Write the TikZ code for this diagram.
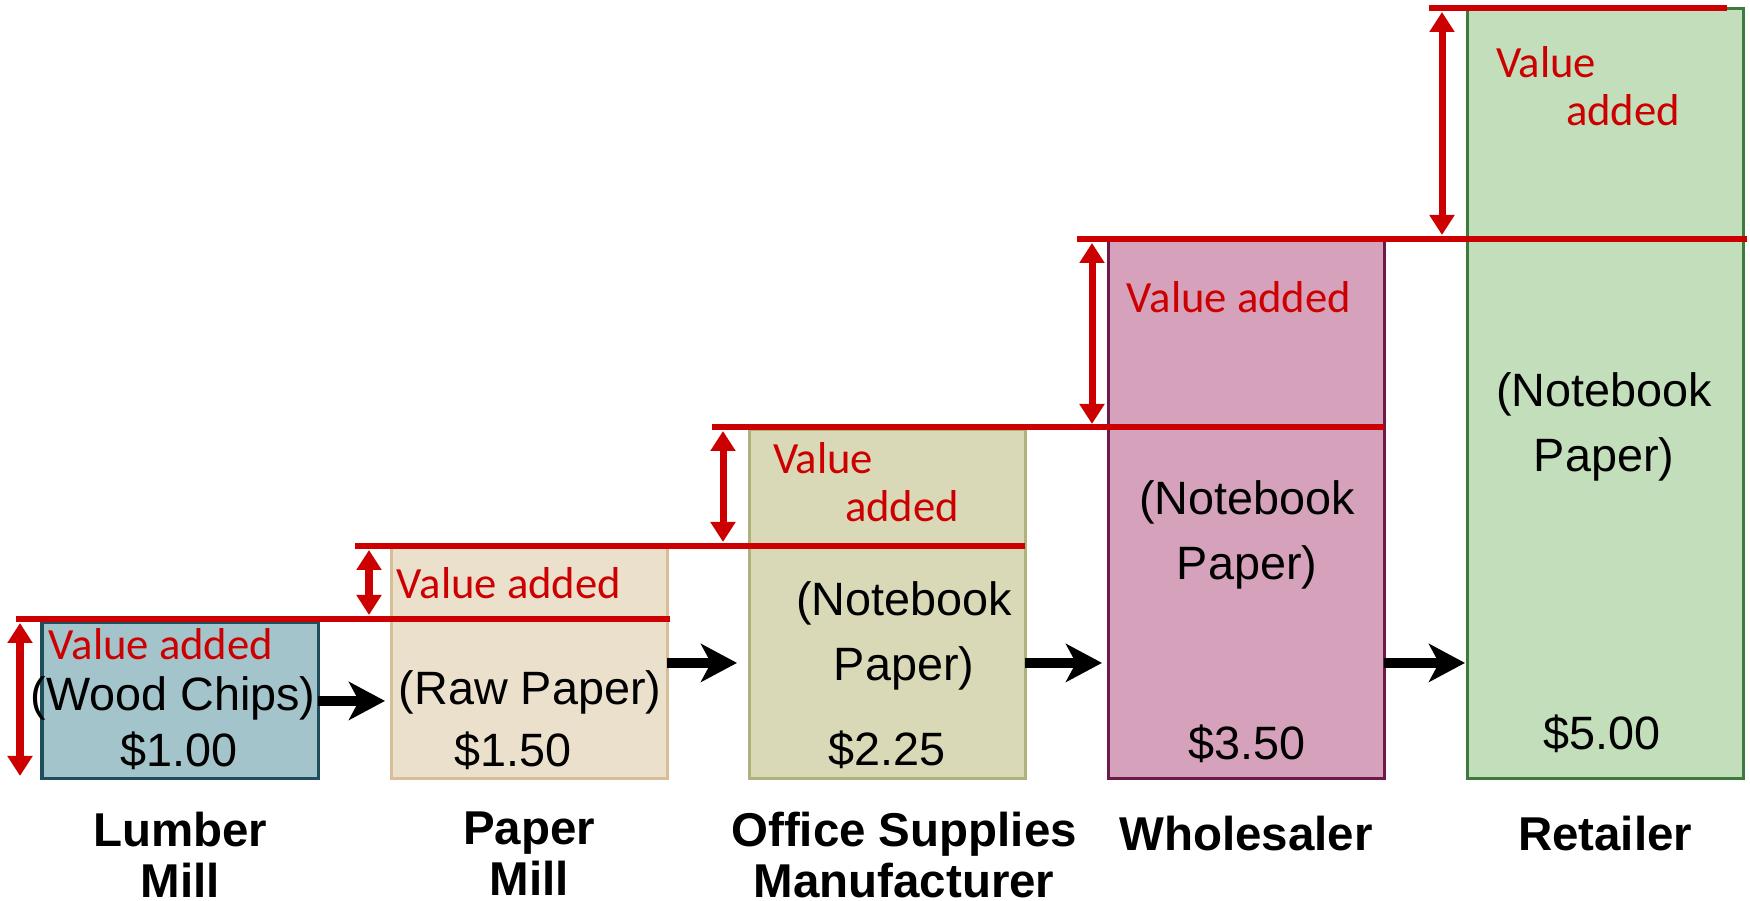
\documentclass[tikz,border=0pt]{standalone}
\usepackage{fontspec}
\setmainfont{Liberation Sans}
\newfontfamily\calibri{Carlito}
\usetikzlibrary{positioning, arrows.meta}

\definecolor{valred}{HTML}{CC0000}
\definecolor{lumberfill}{HTML}{A3C4CB}
\definecolor{lumberline}{HTML}{1E4E5C}
\definecolor{paperfill}{HTML}{EBE0CB}
\definecolor{paperline}{HTML}{D8BE98}
\definecolor{officefill}{HTML}{D9D9B8}
\definecolor{officeline}{HTML}{B0B27B}
\definecolor{wholefill}{HTML}{D5A1BB}
\definecolor{wholeline}{HTML}{6E1A48}
\definecolor{retailfill}{HTML}{C3DEBA}
\definecolor{retailline}{HTML}{3E7A3E}

\begin{document}
\begin{tikzpicture}[x=0.01cm, y=-0.01cm,
    every node/.style={inner sep=0pt, outer sep=0pt},
    firm/.style={draw, line width=0.03cm, minimum width=2.76cm, anchor=south west},
    valline/.style={valred, line width=0.067cm},
    valarrow/.style={valred, line width=0.07cm, {Triangle[length=0.2cm, width=0.24cm]}-{Triangle[length=0.2cm, width=0.24cm]}},
    flow/.style={line width=0.1cm, -{Stealth[length=0.36cm, width=0.38cm, inset=0.1cm]}},
    goods/.style={font=\fontsize{13.3}{18.5}\selectfont, align=center},
    added/.style={text=valred, font=\calibri\fontsize{12.7}{13.7}\selectfont, align=left},
    stage/.style={font=\fontsize{13.5}{14.5}\selectfont\bfseries, align=center}]
    \useasboundingbox (0,0) rectangle (1750,901);

    % the five firms
    \node[firm, fill=lumberfill, draw=lumberline, minimum height=1.56cm] (A) at (42,779) {};
    \node[firm, fill=paperfill, draw=paperline, minimum height=2.32cm] (B) at (391,779) {};
    \node[firm, fill=officefill, draw=officeline, minimum height=3.49cm] (C) at (749,779) {};
    \node[firm, fill=wholefill, draw=wholeline, minimum height=5.39cm] (D) at (1108,779) {};
    \node[firm, fill=retailfill, draw=retailline, minimum height=7.70cm] (E) at (1467,779) {};

    % value levels
    \draw[valline] (16,619) -- (670,619);
    \draw[valline] (355,546) -- (1025,546);
    \draw[valline] (712,427) -- (1384,427);
    \draw[valline] (1077,239) -- (1747,239);
    \draw[valline] (1429,8) -- (1727,8);

    \draw[valarrow] (20,623) -- (20,776);
    \draw[valarrow] (369,550) -- (369,615);
    \draw[valarrow] (723,431) -- (723,542);
    \draw[valarrow] (1092,243) -- (1092,424);
    \draw[valarrow] (1442,12) -- (1442,235);

    % texts in the boxes
    \node[added, anchor=base] (va1) at (161,660) {Value added};
    \node[goods, anchor=base] (wc) at (173,711) {(Wood Chips)};
    \node[goods, anchor=base] (pA) at (179,767) {\$1.00};

    \node[added, anchor=base] (va2) at (509,599) {Value added};
    \node[goods, anchor=base] (rp) at (530,705) {(Raw Paper)};
    \node[goods, anchor=base] (pB) at (513,767) {\$1.50};

    \node[added, anchor=west] (va3) at (773,482) {Value\\\hspace*{0.72cm}added};
    \node[goods] (nbC) at (904,636) {(Notebook\\Paper)};
    \node[goods, anchor=base] (pC) at (887,766) {\$2.25};

    \node[added, anchor=base] (va4) at (1239,313) {Value added};
    \node[goods] (nbD) at (1247,535) {(Notebook\\Paper)};
    \node[goods, anchor=base] (pD) at (1247,760) {\$3.50};

    \node[added, anchor=west] (va5) at (1496,86) {Value\\\hspace*{0.70cm}added};
    \node[goods] (nbE) at (1604,427) {(Notebook\\Paper)};
    \node[goods, anchor=base] (pE) at (1602,750) {\$5.00};

    % stage names
    \node[stage, below=0.33cm of A] (lA) {Lumber\\Mill};
    \node[stage, below=0.33cm of B] (lB) {Paper\\Mill};
    \node[stage, below=0.33cm of C, xshift=0.17cm] (lC) {Office Supplies\\Manufacturer};
    \node[stage, below=0.37cm of D] (lD) {Wholesaler};
    \node[stage, below=0.37cm of E] (lE) {Retailer};

    % flow of goods
    \draw[flow] (A.east) -- ([xshift=-0.06cm]B.west |- A.east);
    \draw[flow] (B.east) -- ([xshift=-0.12cm]C.west |- B.east);
    \draw[flow] (C.east |- B.east) -- ([xshift=-0.06cm]D.west |- B.east);
    \draw[flow] (D.east |- B.east) -- ([xshift=-0.02cm]E.west |- B.east);
\end{tikzpicture}
\end{document}
